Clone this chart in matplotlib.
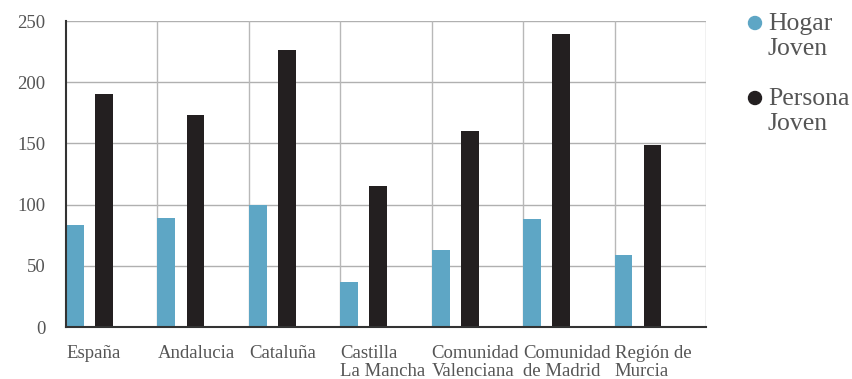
import matplotlib
matplotlib.use("Agg")
import matplotlib.pyplot as plt
import numpy as np

categories = ["España", "Andalucia", "Cataluña", "Castilla\nLa Mancha",
              "Comunidad\nValenciana", "Comunidad\nde Madrid", "Región de\nMurcia"]
hogar_joven = [83, 89, 100, 37, 63, 88, 59]
persona_joven = [190, 173, 226, 115, 160, 239, 149]
series_names = [["Hogar", "Joven"], ["Persona", "Joven"]]
yticks = [0, 50, 100, 150, 200, 250]

c_blue = "#5ea6c5"
c_dark = "#231f20"
c_text = "#555555"
font = "Liberation Serif"

fig = plt.figure(figsize=(8.52, 3.79), dpi=100)
ax = fig.add_axes([66/852, 52/379, 640/852, 306/379])

n = len(categories)
x = np.arange(n)
w = 0.195
ax.bar(x, hogar_joven, width=w, align="edge", color=c_blue, zorder=3)
ax.bar(x + 0.318, persona_joven, width=w, align="edge", color=c_dark, zorder=3)

ax.set_xlim(0, n)
ax.set_ylim(0, 250)
ax.set_yticks(yticks)
ax.set_yticklabels([str(v) for v in yticks], fontsize=13.5, color=c_text, family=font)
for yv in yticks[1:]:
    ax.axhline(yv, color="#b0b0b0", lw=1, zorder=1)
for xv in range(1, n + 1):
    ax.axvline(xv, color="#b8b8b8", lw=1, zorder=1)

ax.set_xticks(x)
ax.set_xticklabels(categories, fontsize=13.5, color=c_text, family=font,
                   ha="left", va="top", linespacing=1.05)
ax.tick_params(axis="both", length=0)
ax.tick_params(axis="y", pad=15)
ax.tick_params(axis="x", pad=13)

for s in ["top", "right"]:
    ax.spines[s].set_visible(False)
ax.spines["left"].set_color("#333333")
ax.spines["left"].set_linewidth(1.5)
ax.spines["bottom"].set_color("#333333")
ax.spines["bottom"].set_linewidth(1.5)
ax.spines["left"].set_zorder(4)
ax.spines["bottom"].set_zorder(4)

# legend
leg_y = [23, 98]
for lines, col, yy in zip(series_names, [c_blue, c_dark], leg_y):
    fig.patches.append(matplotlib.patches.Ellipse((755/852, 1 - yy/379), 13/852, 13/379,
                                                  transform=fig.transFigure, color=col))
    for i, t in enumerate(lines):
        fig.text(768/852, 1 - (yy + 7 + 25 * i)/379, t, fontsize=18.5, color=c_text,
                 family=font, ha="left", va="baseline")

fig.savefig("out.png", dpi=100)
